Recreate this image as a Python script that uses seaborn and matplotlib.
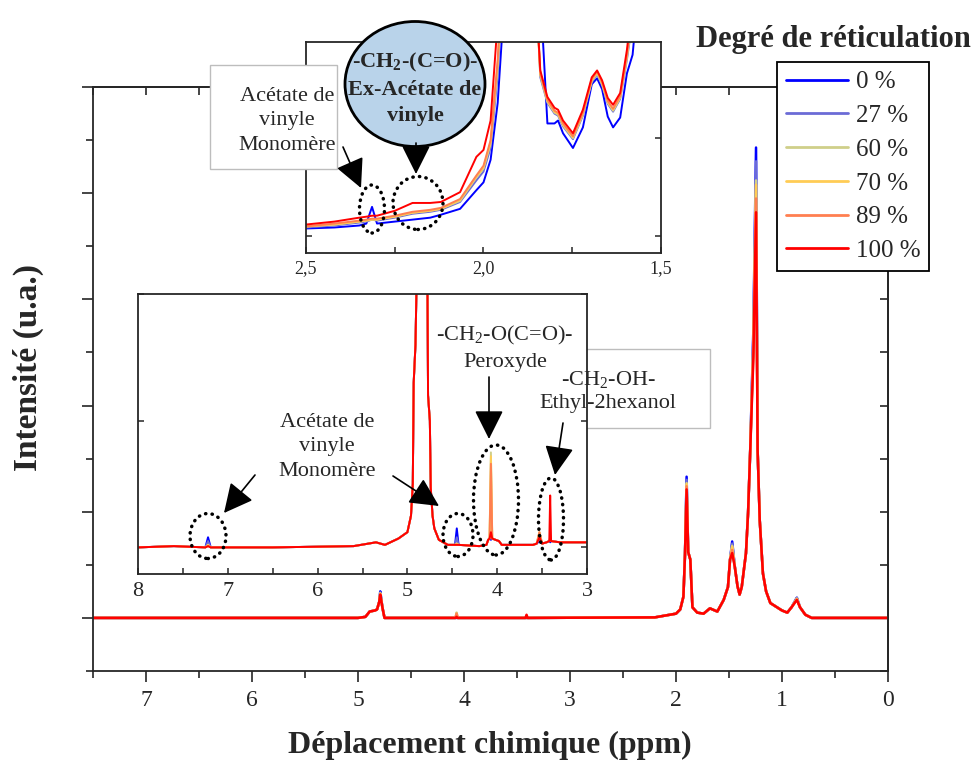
import numpy as np
import pandas as pd
import matplotlib.pyplot as plt
from matplotlib.patches import Ellipse, FancyArrowPatch, Rectangle
from matplotlib.ticker import MultipleLocator, FuncFormatter, NullFormatter
import seaborn as sns

sns.set_style('ticks')
plt.rcParams['font.family'] = ['Liberation Serif', 'DejaVu Serif']
plt.rcParams['mathtext.fontset'] = 'custom'
plt.rcParams['mathtext.rm'] = 'Liberation Serif'
plt.rcParams['mathtext.bf'] = 'Liberation Serif:bold'
plt.rcParams['mathtext.default'] = 'regular'
plt.rcParams['axes.linewidth'] = 1.3

W, H = 979, 765

levels = ['0 %', '27 %', '60 %', '70 %', '89 %', '100 %']
colors = ['#0000ff', '#6b6bd6', '#cfcf8a', '#ffcc55', '#ff7f50', '#ff0000']

# main spectrum: trace shared by all samples
main_ppm = [7.5, 5.0, 4.93, 4.89, 4.84, 4.82, 4.80, 4.77, 4.75, 4.2, 4.08, 4.06,
            3.42, 3.40, 2.2, 2.0, 1.96, 1.93, 1.915, 1.885, 1.865, 1.845, 1.80,
            1.74, 1.68, 1.61, 1.55, 1.51, 1.49, 1.445, 1.42, 1.40, 1.38, 1.34,
            1.32, 1.30, 1.23, 1.21, 1.18, 1.15, 1.11, 1.0, 0.95, 0.91, 0.83,
            0.78, 0.72, 0.0]
main_val = [0.0, 0.0, 0.01, 0.06, 0.07, 0.08, 0.15, 0.10, 0.0, 0.0, 0.0, 0.0,
            0.0, 0.0, 0.005, 0.04, 0.08, 0.2, 0.6, 0.62, 0.55, 0.1, 0.05,
            0.04, 0.09, 0.06, 0.17, 0.29, 0.55, 0.48, 0.3, 0.22, 0.29, 0.61,
            0.99, 1.57, 1.58, 0.92, 0.42, 0.25, 0.14, 0.07, 0.05, 0.10, 0.10,
            0.03, 0.0, 0.0]
# peak tops that differ between samples
main_peak_ppm = [4.79, 4.07, 3.41, 1.90, 1.47, 1.27, 1.245, 0.86]
main_0 = [0.25, 0.00, 0.00, 1.33, 0.72, 2.72, 4.43, 0.19]
main_27 = [0.24, 0.01, 0.00, 1.30, 0.70, 2.66, 4.30, 0.19]
main_60 = [0.23, 0.05, 0.00, 1.27, 0.68, 2.60, 4.12, 0.18]
main_70 = [0.23, 0.04, 0.00, 1.26, 0.67, 2.58, 4.08, 0.18]
main_89 = [0.22, 0.04, 0.01, 1.24, 0.64, 2.50, 3.95, 0.17]
main_100 = [0.22, 0.01, 0.03, 1.21, 0.61, 2.45, 3.82, 0.17]

# zoom 8 - 3 ppm: shared trace
za_ppm = [8.0, 7.6, 7.25, 7.19, 6.5, 5.6, 5.35, 5.25, 5.1, 5.0, 4.96, 4.94, 4.93,
          4.91, 4.89, 4.86, 4.80, 4.78, 4.77, 4.75, 4.74, 4.72, 4.70, 4.65, 4.55,
          4.47, 4.43, 4.2, 4.12, 4.10, 4.085, 4.055, 4.02, 3.98, 3.95, 3.6, 3.56,
          3.50, 3.45, 3.42, 3.40, 3.3, 3.0]
za_val = [0.0, 0.01, 0.0, 0.0, 0.0, 0.01, 0.04, 0.02, 0.07, 0.12, 0.25, 0.5, 1.3,
          1.6, 2.4, 3.5, 3.5, 2.5, 1.2, 1.0, 0.47, 0.25, 0.15, 0.06, 0.02,
          0.02, 0.02, 0.01, 0.02, 0.06, 0.07, 0.07, 0.06, 0.05, 0.02, 0.02, 0.03,
          0.03, 0.04, 0.05, 0.05, 0.04, 0.04]
za_peak_ppm = [7.22, 4.45, 4.07, 3.53, 3.41]
za_0 = [0.08, 0.15, 0.06, 0.05, 0.04]
za_27 = [0.05, 0.08, 0.10, 0.07, 0.05]
za_60 = [0.02, 0.03, 0.75, 0.12, 0.06]
za_70 = [0.02, 0.03, 0.72, 0.12, 0.06]
za_89 = [0.01, 0.02, 0.66, 0.12, 0.08]
za_100 = [0.01, 0.02, 0.12, 0.08, 0.41]

# zoom 2.5 - 1.5 ppm, one trace per sample
zb_ppm = [2.5, 2.42, 2.35, 2.33, 2.314, 2.30, 2.25, 2.20, 2.15, 2.12, 2.066, 2.02,
          2.0, 1.98, 1.96, 1.945, 1.90, 1.86, 1.84, 1.82, 1.80, 1.79, 1.776,
          1.748, 1.72, 1.695, 1.68, 1.666, 1.65, 1.635, 1.615, 1.596, 1.58, 1.5]
zb_0 = [0.08, 0.09, 0.11, 0.13, 0.30, 0.13, 0.15, 0.17, 0.19, 0.22, 0.28, 0.47,
        0.55, 0.78, 1.36, 2.2, 10, 4.0, 2.5, 1.15, 1.15, 1.18, 1.05,
        0.90, 1.11, 1.55, 1.61, 1.50, 1.22, 1.11, 1.21, 1.66, 1.85, 5]
zb_27 = [0.09, 0.11, 0.14, 0.15, 0.17, 0.16, 0.19, 0.23, 0.25, 0.27, 0.35, 0.57,
         0.66, 0.90, 1.65, 2.6, 10, 3.2, 1.62, 1.36, 1.25, 1.23, 1.12,
         0.99, 1.23, 1.57, 1.65, 1.54, 1.35, 1.27, 1.40, 1.80, 2.2, 5]
zb_60 = [0.10, 0.12, 0.15, 0.16, 0.17, 0.17, 0.20, 0.24, 0.26, 0.28, 0.36, 0.60,
         0.69, 0.94, 1.72, 2.7, 10, 3.1, 1.64, 1.37, 1.26, 1.24, 1.13,
         1.00, 1.24, 1.58, 1.66, 1.55, 1.36, 1.28, 1.41, 1.82, 2.25, 5]
zb_70 = [0.10, 0.12, 0.15, 0.16, 0.17, 0.17, 0.20, 0.24, 0.26, 0.28, 0.37, 0.61,
         0.70, 0.96, 1.76, 2.75, 10, 3.0, 1.65, 1.38, 1.27, 1.25, 1.14,
         1.01, 1.25, 1.59, 1.67, 1.56, 1.37, 1.29, 1.42, 1.84, 2.28, 5]
zb_89 = [0.10, 0.13, 0.16, 0.17, 0.18, 0.18, 0.21, 0.25, 0.27, 0.29, 0.38, 0.62,
         0.72, 0.98, 1.8, 2.8, 10, 3.0, 1.66, 1.39, 1.28, 1.26, 1.15,
         1.02, 1.26, 1.60, 1.68, 1.57, 1.38, 1.30, 1.43, 1.85, 2.3, 5]
zb_100 = [0.12, 0.15, 0.19, 0.20, 0.21, 0.21, 0.26, 0.34, 0.34, 0.35, 0.45, 0.81,
          0.88, 1.18, 2.2, 3.0, 10, 3.0, 1.69, 1.42, 1.31, 1.29, 1.18,
          1.05, 1.29, 1.62, 1.69, 1.59, 1.41, 1.34, 1.46, 1.9, 2.4, 5]


def build(ppm, val, peak_ppm, peak_sets):
    rows = []
    for lev, peaks in zip(levels, peak_sets):
        for p, v in list(zip(ppm, val)) + list(zip(peak_ppm, peaks)):
            rows.append((lev, p, v))
    return pd.DataFrame(rows, columns=['level', 'ppm', 'val'])


df_main = build(main_ppm, main_val, main_peak_ppm,
                [main_0, main_27, main_60, main_70, main_89, main_100])
df_a = build(za_ppm, za_val, za_peak_ppm, [za_0, za_27, za_60, za_70, za_89, za_100])
df_b = pd.DataFrame({'level': np.repeat(levels, len(zb_ppm)),
                     'ppm': zb_ppm * len(levels),
                     'val': zb_0 + zb_27 + zb_60 + zb_70 + zb_89 + zb_100})


def fpos(x, y):
    return (x / W, 1 - y / H)


fig = plt.figure(figsize=(W / 100, H / 100), dpi=100)
ax = fig.add_axes([93 / W, 1 - 671 / H, 795 / W, 584 / H])
ins_a = fig.add_axes([138 / W, 1 - 574 / H, 449 / W, 280 / H])
ins_b = fig.add_axes([306 / W, 1 - 253 / H, 355 / W, 211 / H])

# main spectrum
sns.lineplot(data=df_main, x='ppm', y='val', hue='level', hue_order=levels,
             palette=colors, estimator=None, lw=1.8, legend=False, ax=ax)
ax.set_xlim(7.5, 0)
ax.set_ylim(-0.5, 5.0)
ax.set_xlabel('')
ax.set_ylabel('')
ax.xaxis.set_major_locator(MultipleLocator(1))
ax.xaxis.set_minor_locator(MultipleLocator(0.5))
ax.yaxis.set_major_locator(MultipleLocator(1))
ax.yaxis.set_minor_locator(MultipleLocator(0.5))
ax.yaxis.set_major_formatter(NullFormatter())
ax.tick_params(which='major', direction='out', length=8, width=1.2, labelsize=17, pad=6)
ax.tick_params(which='minor', direction='out', length=5, width=1.2)

sec_x = ax.secondary_xaxis('top')
sec_x.xaxis.set_major_locator(MultipleLocator(1))
sec_x.xaxis.set_minor_locator(MultipleLocator(0.5))
sec_x.tick_params(which='both', direction='in', length=6, width=1.2, labeltop=False)
sec_y = ax.secondary_yaxis('right')
sec_y.yaxis.set_major_locator(MultipleLocator(1))
sec_y.yaxis.set_minor_locator(MultipleLocator(0.5))
sec_y.tick_params(which='both', direction='in', length=6, width=1.2, labelright=False)

# box behind the first zoom
ax.add_artist(Rectangle(fpos(530, 428), 180 / W, 79 / H, transform=fig.transFigure,
                        fc='white', ec='#bdbdbd', lw=1, clip_on=False))

# zoom 8 - 3 ppm
sns.lineplot(data=df_a, x='ppm', y='val', hue='level', hue_order=levels,
             palette=colors, estimator=None, lw=1.4, legend=False, ax=ins_a)
ins_a.set_xlim(8, 3)
ins_a.set_ylim(-0.21, 2.0)
ins_a.set_xlabel('')
ins_a.set_ylabel('')
ins_a.xaxis.set_major_locator(MultipleLocator(1))
ins_a.xaxis.set_minor_locator(MultipleLocator(0.5))
ins_a.yaxis.set_major_locator(MultipleLocator(1))
ins_a.yaxis.set_major_formatter(NullFormatter())
ins_a.tick_params(which='both', direction='in', length=4, width=1.1, labelsize=16,
                  right=True, pad=6)

# zoom 2.5 - 1.5 ppm
sns.lineplot(data=df_b, x='ppm', y='val', hue='level', hue_order=levels,
             palette=colors, estimator=None, lw=1.4, legend=False, ax=ins_b)
ins_b.set_xlim(2.5, 1.5)
ins_b.set_ylim(-0.17, 1.98)
ins_b.set_xlabel('')
ins_b.set_ylabel('')
ins_b.xaxis.set_major_locator(MultipleLocator(0.5))
ins_b.xaxis.set_minor_locator(MultipleLocator(0.25))
ins_b.xaxis.set_major_formatter(FuncFormatter(lambda v, _: f'{v:.1f}'.replace('.', ',')))
ins_b.yaxis.set_major_locator(MultipleLocator(1))
ins_b.yaxis.set_major_formatter(NullFormatter())
ins_b.tick_params(which='both', direction='in', length=4, width=1.1, labelsize=13,
                  right=True, pad=5)

# legend and axis titles
leg = fig.legend(handles=ax.lines[:6], labels=levels, loc='upper left',
                 bbox_to_anchor=fpos(777, 62), borderaxespad=0, fontsize=18,
                 frameon=True, fancybox=False, framealpha=1, edgecolor='black',
                 handlelength=2.5, handletextpad=0.3, labelspacing=0.45, borderpad=0.35)
leg.get_frame().set_linewidth(1.3)
for line in leg.get_lines():
    line.set_linewidth(2)
fig.text(*fpos(833, 40), 'Degré de réticulation', ha='center', va='center',
         fontsize=22, fontweight='bold')
fig.text(*fpos(490, 745), 'Déplacement chimique (ppm)', ha='center', va='center',
         fontsize=23, fontweight='bold')
fig.text(*fpos(28, 367), 'Intensité (u.a.)', ha='center', va='center', rotation=90,
         fontsize=24, fontweight='bold')

# annotations on the zooms
fig.add_artist(Rectangle(fpos(210, 169), 127 / W, 104 / H, transform=fig.transFigure,
                         fc='white', ec='#bdbdbd', lw=1, zorder=4))
fig.text(*fpos(287, 121), 'Acétate de\nvinyle\nMonomère', ha='center', va='center',
         fontsize=16, linespacing=1.4, zorder=5)
fig.add_artist(Ellipse(fpos(415, 84), 140 / W, 125 / H, transform=fig.transFigure,
                       fc='#b9d3ea', ec='black', lw=2, zorder=4))
fig.text(*fpos(415, 88), '-CH$_\\mathbf{2}$-(C=O)-\nEx-Acétate de\nvinyle', ha='center',
         va='center', fontsize=16, fontweight='bold', linespacing=1.4, zorder=5)
fig.text(*fpos(327, 447), 'Acétate de\nvinyle\nMonomère', ha='center', va='center',
         fontsize=16, linespacing=1.4, zorder=5)
fig.text(*fpos(505, 348), '-CH$_2$-O(C=O)-\nPeroxyde', ha='center', va='center',
         fontsize=16, linespacing=1.4, zorder=5)
fig.text(*fpos(608, 391), '-CH$_2$-OH-\nEthyl-2hexanol', ha='center', va='center',
         fontsize=16, linespacing=1.3, zorder=5)

for cx, cy, w, h in [(372, 209, 25, 48), (418, 203, 50, 53), (208, 536, 36, 45),
                     (458, 535, 30, 43), (496, 500, 45, 110), (551, 519, 25, 82)]:
    fig.add_artist(Ellipse(fpos(cx, cy), w / W, h / H, transform=fig.transFigure,
                           fill=False, ec='black', lw=2.5, ls=(0, (0.1, 1.8)),
                           capstyle='round', zorder=6))

for (x1, y1), (x2, y2) in [((343, 147), (361, 188)), ((416, 143), (416, 174)),
                           ((255, 475), (224, 513)), ((393, 476), (439, 506)),
                           ((489, 377), (489, 439)), ((563, 423), (555, 475))]:
    fig.add_artist(FancyArrowPatch(fpos(x1, y1), fpos(x2, y2), transform=fig.transFigure,
                                   arrowstyle='-|>,head_length=0.9,head_width=0.45',
                                   mutation_scale=20, lw=1.2, color='black',
                                   shrinkA=0, shrinkB=0, zorder=6))

fig.savefig('out.png', dpi=100)
